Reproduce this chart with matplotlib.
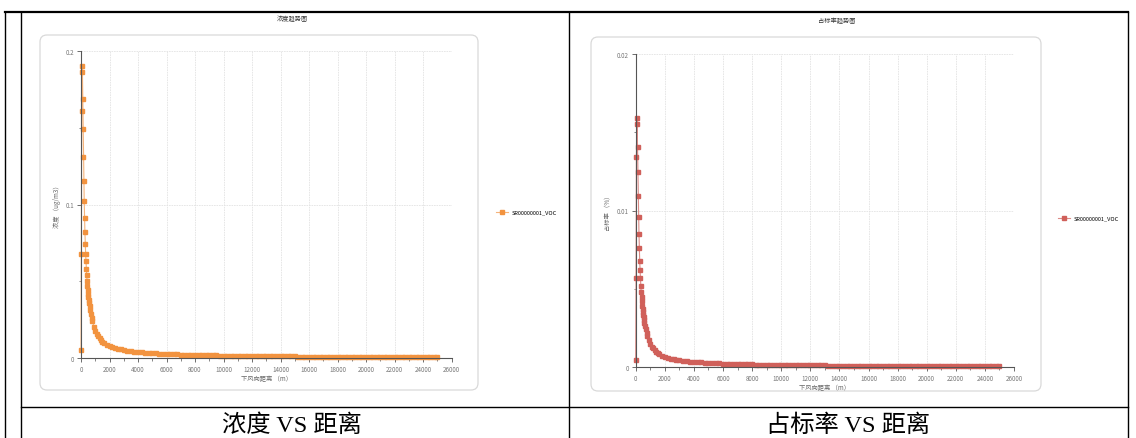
import matplotlib
matplotlib.use("Agg")
import matplotlib.pyplot as plt
from matplotlib.patches import FancyBboxPatch
from matplotlib.ticker import MultipleLocator, FuncFormatter

plt.rcParams['font.family'] = ['Noto Sans CJK SC', 'DejaVu Sans']

# --- data ---
near_dist = [0, 25, 50, 75, 100, 125, 150, 175, 200, 225, 250, 275, 300, 325, 350,
             375, 400, 425, 450, 475, 500, 525, 550, 575, 600, 650, 700, 750, 800,
             900, 1000, 1100, 1200, 1300, 1400, 1500, 1600, 1800, 2000, 2200, 2400,
             2600, 2800]
far_dist = list(range(3000, 25001, 250))
distance = near_dist + far_dist

conc_near = [0.0055, 0.068, 0.161, 0.190, 0.1865, 0.1687, 0.149, 0.1311, 0.1155,
             0.1023, 0.0912, 0.082, 0.074, 0.068, 0.063, 0.058, 0.054, 0.050, 0.047,
             0.044, 0.042, 0.040, 0.038, 0.036, 0.034, 0.031, 0.0285, 0.026, 0.024,
             0.0205, 0.0178, 0.0158, 0.0142, 0.0128, 0.0117, 0.0107, 0.0099, 0.0087,
             0.0078, 0.0071, 0.0065, 0.0060, 0.0056]
conc_far = [0.00520, 0.00480, 0.00448, 0.00420, 0.00395, 0.00372, 0.00352, 0.00334,
            0.00318, 0.00303, 0.00289, 0.00277, 0.00265, 0.00254, 0.00244, 0.00235,
            0.00226, 0.00218, 0.00210, 0.00203, 0.00196, 0.00190, 0.00184, 0.00178,
            0.00173, 0.00168, 0.00163, 0.00158, 0.00154, 0.00150, 0.00146, 0.00142,
            0.00139, 0.00135, 0.00132, 0.00129, 0.00126, 0.00123, 0.00120, 0.00118,
            0.00115, 0.00113, 0.00111, 0.00108, 0.00106, 0.00104, 0.00102, 0.00100,
            0.00098, 0.00096, 0.00095, 0.00093, 0.00091, 0.00090, 0.00088, 0.00087,
            0.00085, 0.00084, 0.00083, 0.00081, 0.00080, 0.00079, 0.00078, 0.00076,
            0.00075, 0.00074, 0.00073, 0.00072, 0.00071, 0.00070, 0.00069, 0.00068,
            0.00067, 0.00066, 0.00065, 0.00065, 0.00064, 0.00063, 0.00062, 0.00061,
            0.00061, 0.00060, 0.00059, 0.00058, 0.00058, 0.00057, 0.00056, 0.00056,
            0.00055]
concentration = conc_near + conc_far

ratio_near = [0.00046, 0.0057, 0.0134, 0.01589, 0.01553, 0.01404, 0.01244, 0.0109,
              0.0096, 0.0085, 0.0076, 0.0068, 0.0062, 0.0057, 0.0052, 0.0048, 0.0045,
              0.0042, 0.0039, 0.0037, 0.0035, 0.0033, 0.0032, 0.0030, 0.0028, 0.0026,
              0.0024, 0.0022, 0.0020, 0.0017, 0.0015, 0.0013, 0.0012, 0.00107,
              0.00098, 0.00089, 0.00083, 0.00073, 0.00065, 0.00059, 0.00054, 0.00050,
              0.00047]
ratio_far = [0.000433, 0.000400, 0.000373, 0.000350, 0.000329, 0.000310, 0.000293,
             0.000278, 0.000265, 0.000253, 0.000241, 0.000231, 0.000221, 0.000212,
             0.000203, 0.000196, 0.000188, 0.000182, 0.000175, 0.000169, 0.000163,
             0.000158, 0.000153, 0.000148, 0.000144, 0.000140, 0.000136, 0.000132,
             0.000128, 0.000125, 0.000122, 0.000118, 0.000116, 0.000113, 0.000110,
             0.000108, 0.000105, 0.000103, 0.000100, 0.000098, 0.000096, 0.000094,
             0.000093, 0.000090, 0.000088, 0.000087, 0.000085, 0.000083, 0.000082,
             0.000080, 0.000079, 0.000078, 0.000076, 0.000075, 0.000073, 0.000073,
             0.000071, 0.000070, 0.000069, 0.000068, 0.000067, 0.000066, 0.000065,
             0.000063, 0.000063, 0.000062, 0.000061, 0.000060, 0.000059, 0.000058,
             0.000058, 0.000057, 0.000056, 0.000055, 0.000054, 0.000054, 0.000053,
             0.000053, 0.000052, 0.000051, 0.000051, 0.000050, 0.000049, 0.000048,
             0.000048, 0.000048, 0.000047, 0.000047, 0.000046]
ratio = ratio_near + ratio_far

series_name = 'SR00000001_VOC'
W, H = 1136, 439

fig = plt.figure(figsize=(W / 100, H / 100), dpi=100)

# overlay in pixel coordinates for the table and the chart frames
bg = fig.add_axes([0, 0, 1, 1])
bg.set_xlim(0, W)
bg.set_ylim(H, 0)
bg.axis('off')

for x in [5, 21, 569, 1128]:
    bg.plot([x, x], [13, H], color='black', lw=1.0)
bg.plot([5, 1128], [13, 13], color='black', lw=1.6)
bg.plot([21, 1128], [408, 408], color='black', lw=1.0)

for (x0, y0, x1, y1) in [(40, 36, 478, 391), (591, 38, 1041, 392)]:
    bg.add_patch(FancyBboxPatch((x0, y0), x1 - x0, y1 - y0,
                                boxstyle='round,pad=0,rounding_size=7',
                                fc='none', ec='#d9d9d9', lw=0.9))

bg.text(292, 19, '浓度趋势图', fontsize=4.5, ha='center', va='center', color='#333')
bg.text(837, 21, '占标率趋势图', fontsize=4.5, ha='center', va='center', color='#333')

cap_font = ['Liberation Serif', 'Noto Sans CJK SC']
bg.text(292, 426, '浓度 VS 距离', fontsize=17.5, ha='center', va='center', family=cap_font)
bg.text(848, 426, '占标率 VS 距离', fontsize=17.5, ha='center', va='center', family=cap_font)


def px_axes(x0, y0, x1, y1):
    return fig.add_axes([x0 / W, (H - y1) / H, (x1 - x0) / W, (y1 - y0) / H])


def style_chart(ax, ymax, ystep, ylabel):
    ax.set_facecolor('none')
    ax.set_xlim(0, 26000)
    ax.set_ylim(0, ymax)
    ax.xaxis.set_major_locator(MultipleLocator(2000))
    ax.xaxis.set_minor_locator(MultipleLocator(1000))
    ax.yaxis.set_major_locator(MultipleLocator(ystep))
    ax.yaxis.set_minor_locator(MultipleLocator(ystep / 2))
    ax.yaxis.set_major_formatter(FuncFormatter(lambda v, p: '%g' % round(v, 6)))
    for s in ['top', 'right']:
        ax.spines[s].set_visible(False)
    for s in ['left', 'bottom']:
        ax.spines[s].set_color('#555555')
        ax.spines[s].set_linewidth(0.8)
    ax.grid(True, which='major', color='#e3e3e3', lw=0.6, ls=(0, (2, 1)))
    ax.tick_params(which='major', length=3, width=0.6, color='#555555',
                   labelsize=4.5, labelcolor='#777777', pad=2)
    ax.tick_params(which='minor', length=1.8, width=0.5, color='#555555')
    ax.set_xlabel('下风向距离 （m）', fontsize=4.5, color='#666666', labelpad=1)
    ax.set_ylabel(ylabel, fontsize=4.5, color='#666666', labelpad=3)


# left: concentration
ax1 = px_axes(81, 52, 451.5, 359)
ax1.plot(distance, concentration, color='#F5B47C', lw=0.8, marker='s', markersize=3.3,
         mfc='#F2933F', mec='#F2933F', label=series_name, clip_on=False)
style_chart(ax1, 0.2, 0.1, '浓度 （ug/m3）')
ax1.legend(loc='center left', bbox_to_anchor=(491 / W, (H - 213) / H),
           bbox_transform=fig.transFigure, frameon=False, fontsize=4,
           handlelength=2.2, handletextpad=0.6, markerscale=0.85)

# right: ratio
ax2 = px_axes(635.7, 55, 1014, 368)
ax2.plot(distance, ratio, color='#DC8B86', lw=0.8, marker='s', markersize=3.3,
         mfc='#D0605A', mec='#D0605A', label=series_name, clip_on=False)
style_chart(ax2, 0.02, 0.01, '占标率 （%）')
ax2.legend(loc='center left', bbox_to_anchor=(1053 / W, (H - 219) / H),
           bbox_transform=fig.transFigure, frameon=False, fontsize=4,
           handlelength=2.2, handletextpad=0.6, markerscale=0.85)

fig.savefig('out.png', dpi=100)
